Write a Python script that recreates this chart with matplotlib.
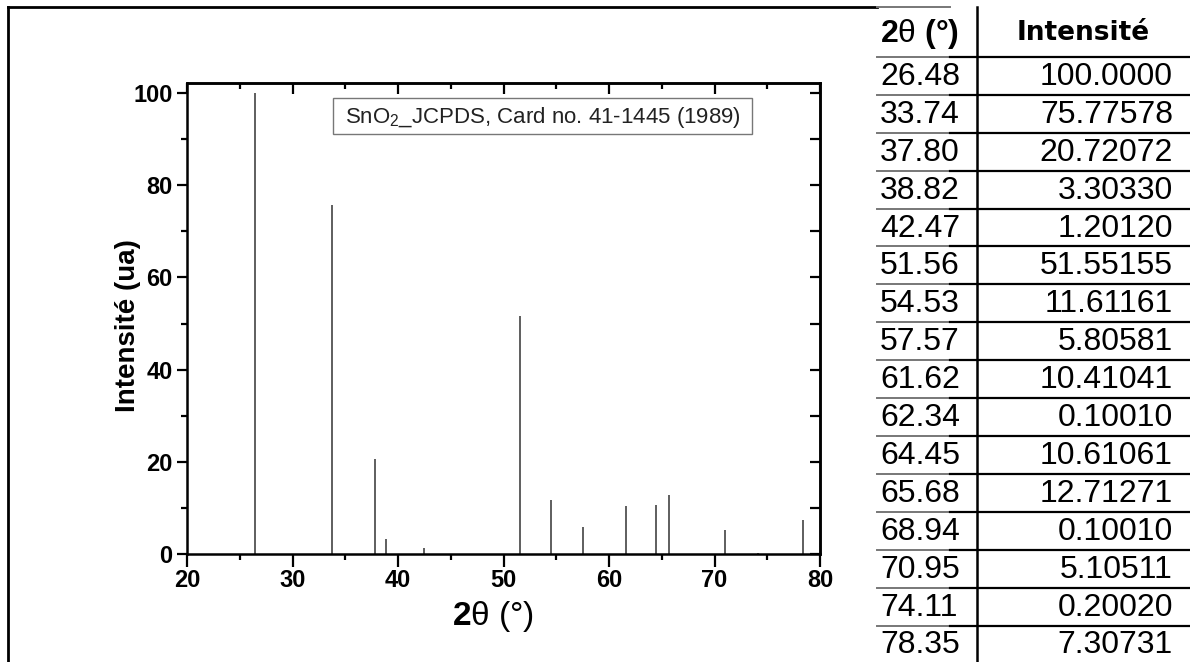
import matplotlib
matplotlib.use("Agg")
import matplotlib.pyplot as plt
from matplotlib.lines import Line2D
from matplotlib.patches import Rectangle
from matplotlib.ticker import MultipleLocator

plt.rcParams['font.family'] = ['Liberation Sans', 'DejaVu Sans']
plt.rcParams['mathtext.fontset'] = 'custom'
plt.rcParams['mathtext.rm'] = 'Liberation Sans'
plt.rcParams['mathtext.bf'] = 'Liberation Sans:bold'
plt.rcParams['mathtext.it'] = 'Liberation Sans:italic'

# SnO2 reference pattern, JCPDS card 41-1445
two_theta = [26.48, 33.74, 37.80, 38.82, 42.47, 51.56, 54.53, 57.57,
             61.62, 62.34, 64.45, 65.68, 68.94, 70.95, 74.11, 78.35]
intensity = [100.0000, 75.77578, 20.72072, 3.30330, 1.20120, 51.55155,
             11.61161, 5.80581, 10.41041, 0.10010, 10.61061, 12.71271,
             0.10010, 5.10511, 0.20020, 7.30731]
card_label = "SnO$_2$_JCPDS, Card no. 41-1445 (1989)"

W, H = 1190, 662
fig = plt.figure(figsize=(W / 100, H / 100), dpi=100)


def fx(x):
    return x / W


def fy(y):
    return 1 - y / H


def hline(x0, x1, y, color='black', lw=1.6):
    fig.add_artist(Line2D([fx(x0), fx(x1)], [fy(y), fy(y)], color=color,
                          lw=lw, transform=fig.transFigure))


def vline(x, y0, y1, color='black', lw=1.6):
    fig.add_artist(Line2D([fx(x), fx(x)], [fy(y0), fy(y1)], color=color,
                          lw=lw, transform=fig.transFigure))


# stick pattern
ax = fig.add_axes([fx(187), fy(554), (820 - 187) / W, (554 - 83) / H])
ax.vlines(two_theta, 0, intensity, color='#333333', lw=1.1)
ax.set_xlim(20, 80)
ax.set_ylim(0, 102.2)
ax.xaxis.set_major_locator(MultipleLocator(10))
ax.xaxis.set_minor_locator(MultipleLocator(5))
ax.yaxis.set_major_locator(MultipleLocator(20))
ax.yaxis.set_minor_locator(MultipleLocator(10))
for s in ax.spines.values():
    s.set_linewidth(1.8)
ax.tick_params(which='both', direction='out', width=1.6, top=False, right=False)
ax.tick_params(which='major', length=7)
ax.tick_params(which='minor', length=4)
ax.tick_params(axis='x', which='major', length=9, pad=2)
ax.tick_params(labelsize=17)
for lab in ax.get_xticklabels() + ax.get_yticklabels():
    lab.set_fontweight('bold')

# inward ticks on the top and right spines
ax_top = ax.secondary_xaxis('top')
ax_top.xaxis.set_major_locator(MultipleLocator(10))
ax_top.xaxis.set_minor_locator(MultipleLocator(5))
ax_top.tick_params(which='both', direction='in', width=1.6, labeltop=False)
ax_top.tick_params(which='major', length=8)
ax_top.tick_params(which='minor', length=4)
ax_top.spines['top'].set_linewidth(1.8)
ax_right = ax.secondary_yaxis('right')
ax_right.yaxis.set_major_locator(MultipleLocator(20))
ax_right.yaxis.set_minor_locator(MultipleLocator(10))
ax_right.tick_params(which='both', direction='in', width=1.6, labelright=False,
                     length=7)
ax_right.spines['right'].set_linewidth(1.8)

fig.text(fx(128), fy(326), "Intensité (ua)", rotation=90, ha='center',
         va='center', fontsize=20, fontweight='bold')
fig.text(fx(493), fy(617), r"$\mathbf{2}$θ (°)", ha='center', va='center',
         fontsize=24)

# card label box
fig.add_artist(Rectangle((fx(333), fy(134)), (752 - 333) / W, 36 / H,
                         transform=fig.transFigure, facecolor='white',
                         edgecolor='#777777', lw=1.0))
fig.text(fx(345), fy(117), card_label, ha='left', va='center', fontsize=16,
         color='#222222')

# outer frame
vline(8, 7, 662, lw=2.0)
hline(8, 877, 7, lw=2.0)
hline(877, 950, 7, color='#777777', lw=1.4)

# peak table
row_top = 57
row_h = 37.9
vline(977, 7, 662, lw=1.8)
fig.text(fx(880), fy(34), r"$\mathbf{2}$θ $\mathbf{(°)}$", ha='left',
         va='center', fontsize=23)
fig.text(fx(1083), fy(33), "Intensité", ha='center', va='center',
         fontsize=19, fontweight='bold', family='DejaVu Sans')
for i, (t, v) in enumerate(zip(two_theta, intensity)):
    y_line = row_top + i * row_h
    hline(877, 950, y_line, color='#777777', lw=1.4)
    hline(950, W, y_line, lw=1.6)
    yc = y_line + row_h / 2 + 1
    ndec = min(5, 7 - len(str(int(v))))
    fig.text(fx(880), fy(yc), f"{t:.2f}", ha='left', va='center',
             fontsize=23, color='black')
    fig.text(fx(1173), fy(yc), f"{v:.{ndec}f}", ha='right', va='center',
             fontsize=23, color='black')

fig.savefig("out.png", dpi=100, facecolor='white')
